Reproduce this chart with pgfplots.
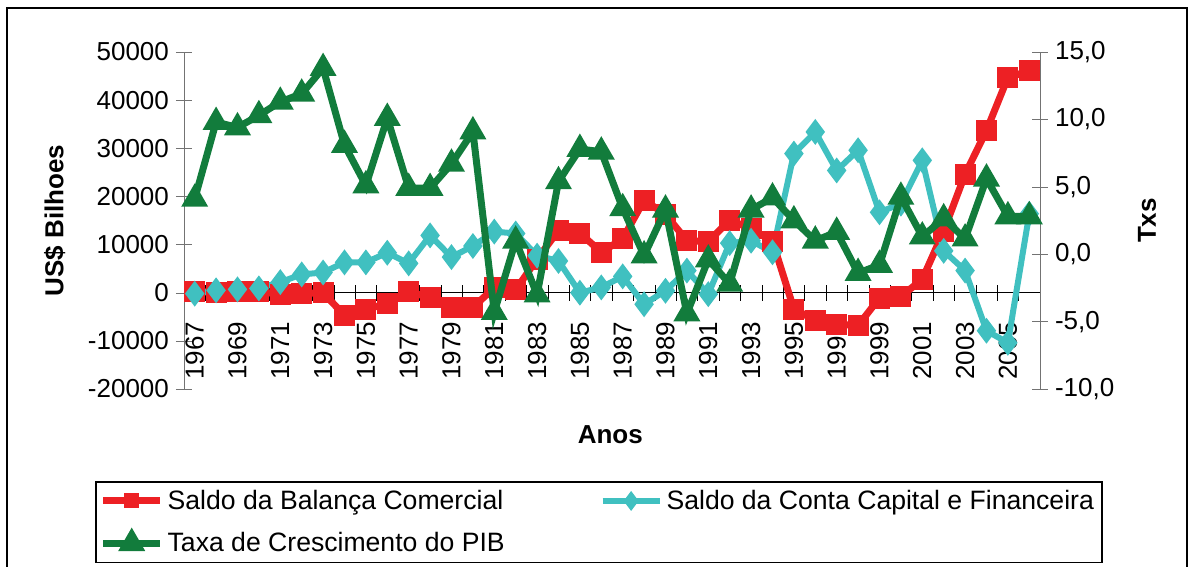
\documentclass[border=0pt]{standalone}
\usepackage{pgfplots}
\pgfplotsset{compat=1.18}
\usepackage{pgfplotstable}
\usepackage{fontspec}
\setmainfont{Liberation Sans}
\definecolor{cred}{RGB}{237,32,36}
\definecolor{ccyan}{RGB}{64,192,192}
\definecolor{cgreen}{RGB}{18,124,60}
\pgfplotstableread{
i bal cap pib
0 200 -200 4.1
1 100 500 9.8
2 300 700 9.4
3 200 900 10.3
4 -300 2200 11.3
5 -200 3800 11.9
6 0 4200 13.8
7 -4700 6300 8.1
8 -3400 6300 5.1
9 -2300 8300 10.1
10 200 6100 4.9
11 -1000 11900 4.9
12 -3000 7400 6.7
13 -3000 9700 9.1
14 1000 12700 -4.3
15 600 12300 1.0
16 7000 7700 -3.0
17 12900 6600 5.4
18 12400 0 7.8
19 8400 1100 7.6
20 11200 3400 3.4
21 19200 -2400 -0.1
22 16300 400 3.3
23 10800 4600 -4.4
24 10600 -300 -0.4
25 15100 10300 -2.2
26 13300 10800 3.3
27 10700 8400 4.2
28 -3400 28900 2.5
29 -5700 33400 1.0
30 -6600 25400 1.65
31 -6800 29600 -1.4
32 -1100 16700 -0.8
33 -800 18500 4.25
34 2800 27500 1.3
35 12800 8700 2.65
36 24600 4600 1.15
37 33700 -7900 5.6
38 44700 -10400 2.8
39 46100 16400 2.8
}\data
\begin{document}
\begin{tikzpicture}
\useasboundingbox (-92pt,-89pt) rectangle (503.5pt,194.5pt);
\draw[line width=1.2pt] (-88.5pt,-95pt) -- (-88.5pt,190.5pt) -- (501.5pt,190.5pt) -- (501.5pt,-95pt);
\pgfplotsset{every axis/.append style={font=\fontsize{13}{15.6}\selectfont}}
\begin{axis}[
  scale only axis, width=428pt, height=168.5pt,
  xmin=-0.5, xmax=39.5, ymin=-20000, ymax=50000,
  axis y line*=left, axis x line*=middle,
  x axis line style={black,-}, y axis line style={black!55,-},
  tick align=center, major tick length=8pt, minor tick length=8pt,
  scaled y ticks=false,
  xtick={0,2,...,38},
  xticklabels={1967,1969,1971,1973,1975,1977,1979,1981,1983,1985,1987,1989,1991,1993,1995,1997,1999,2001,2003,2005},
  minor xtick={-0.5,0.5,...,39.5},
  every major x tick/.append style={draw=none},
  every minor x tick/.append style={black},
  every major y tick/.append style={black!55},
  xticklabel style={yshift=-7pt, rotate=90, anchor=east, font=\fontsize{13}{15.6}\selectfont},
  ytick={-20000,-10000,...,50000},
  yticklabels={-20000,-10000,0,10000,20000,30000,40000,50000},
  yticklabel style={font=\fontsize{13}{15.6}\selectfont},
  ylabel={\textbf{US\$ Bilhoes}},
  ylabel style={at={(axis description cs:-0.151,0.5)}, anchor=center, rotate=0},
  xlabel={\textbf{Anos}},
  xlabel style={at={(axis description cs:0.498,-0.1365)}, anchor=center},
  clip=false,
]
\addplot[cred, line width=3.5pt, mark=square*, mark size=3.5pt] table[x=i,y=bal]{\data};
\addplot[ccyan, line width=3pt, mark=diamond*, mark size=4pt] table[x=i,y=cap]{\data};
\end{axis}
\begin{axis}[
  scale only axis, width=428pt, height=168.5pt,
  xmin=-0.5, xmax=39.5, ymin=-10, ymax=15,
  axis y line*=right, axis x line=none,
  y axis line style={black!55,-},
  tick align=center, major tick length=8pt,
  every major y tick/.append style={black!55},
  ytick={-10,-5,...,15},
  yticklabels={{-10,0},{-5,0},{0,0},{5,0},{10,0},{15,0}},
  yticklabel style={font=\fontsize{13}{15.6}\selectfont},
  ylabel={\textbf{Txs}},
  ylabel style={at={(axis description cs:1.125,0.5)}, anchor=center, rotate=0},
  clip=false,
  legend columns=2,
  legend cell align=left,
  legend style={at={(axis description cs:-0.104,-0.273)}, anchor=north west,
    draw=black, line width=0.8pt, font=\fontsize{13.3}{16}\selectfont,
    inner sep=2pt, row sep=6pt},
  legend image code/.code={\draw[#1,mark repeat=2,mark phase=2] plot coordinates {(0cm,0cm)(0.5cm,0cm)(1.0cm,0cm)};},
]
\addlegendimage{cred, line width=3.5pt, mark=square*, mark size=2pt}
\addlegendentry{\makebox[214pt][l]{Saldo da Balança Comercial}}
\addlegendimage{ccyan, line width=3pt, mark=diamond*, mark size=2.5pt}
\addlegendentry{Saldo da Conta Capital e Financeira}
\addplot[cgreen, line width=3.5pt, mark=triangle*, mark size=4.3pt] table[x=i,y=pib]{\data};
\addlegendentry{Taxa de Crescimento do PIB}
\end{axis}
\end{tikzpicture}
\end{document}
